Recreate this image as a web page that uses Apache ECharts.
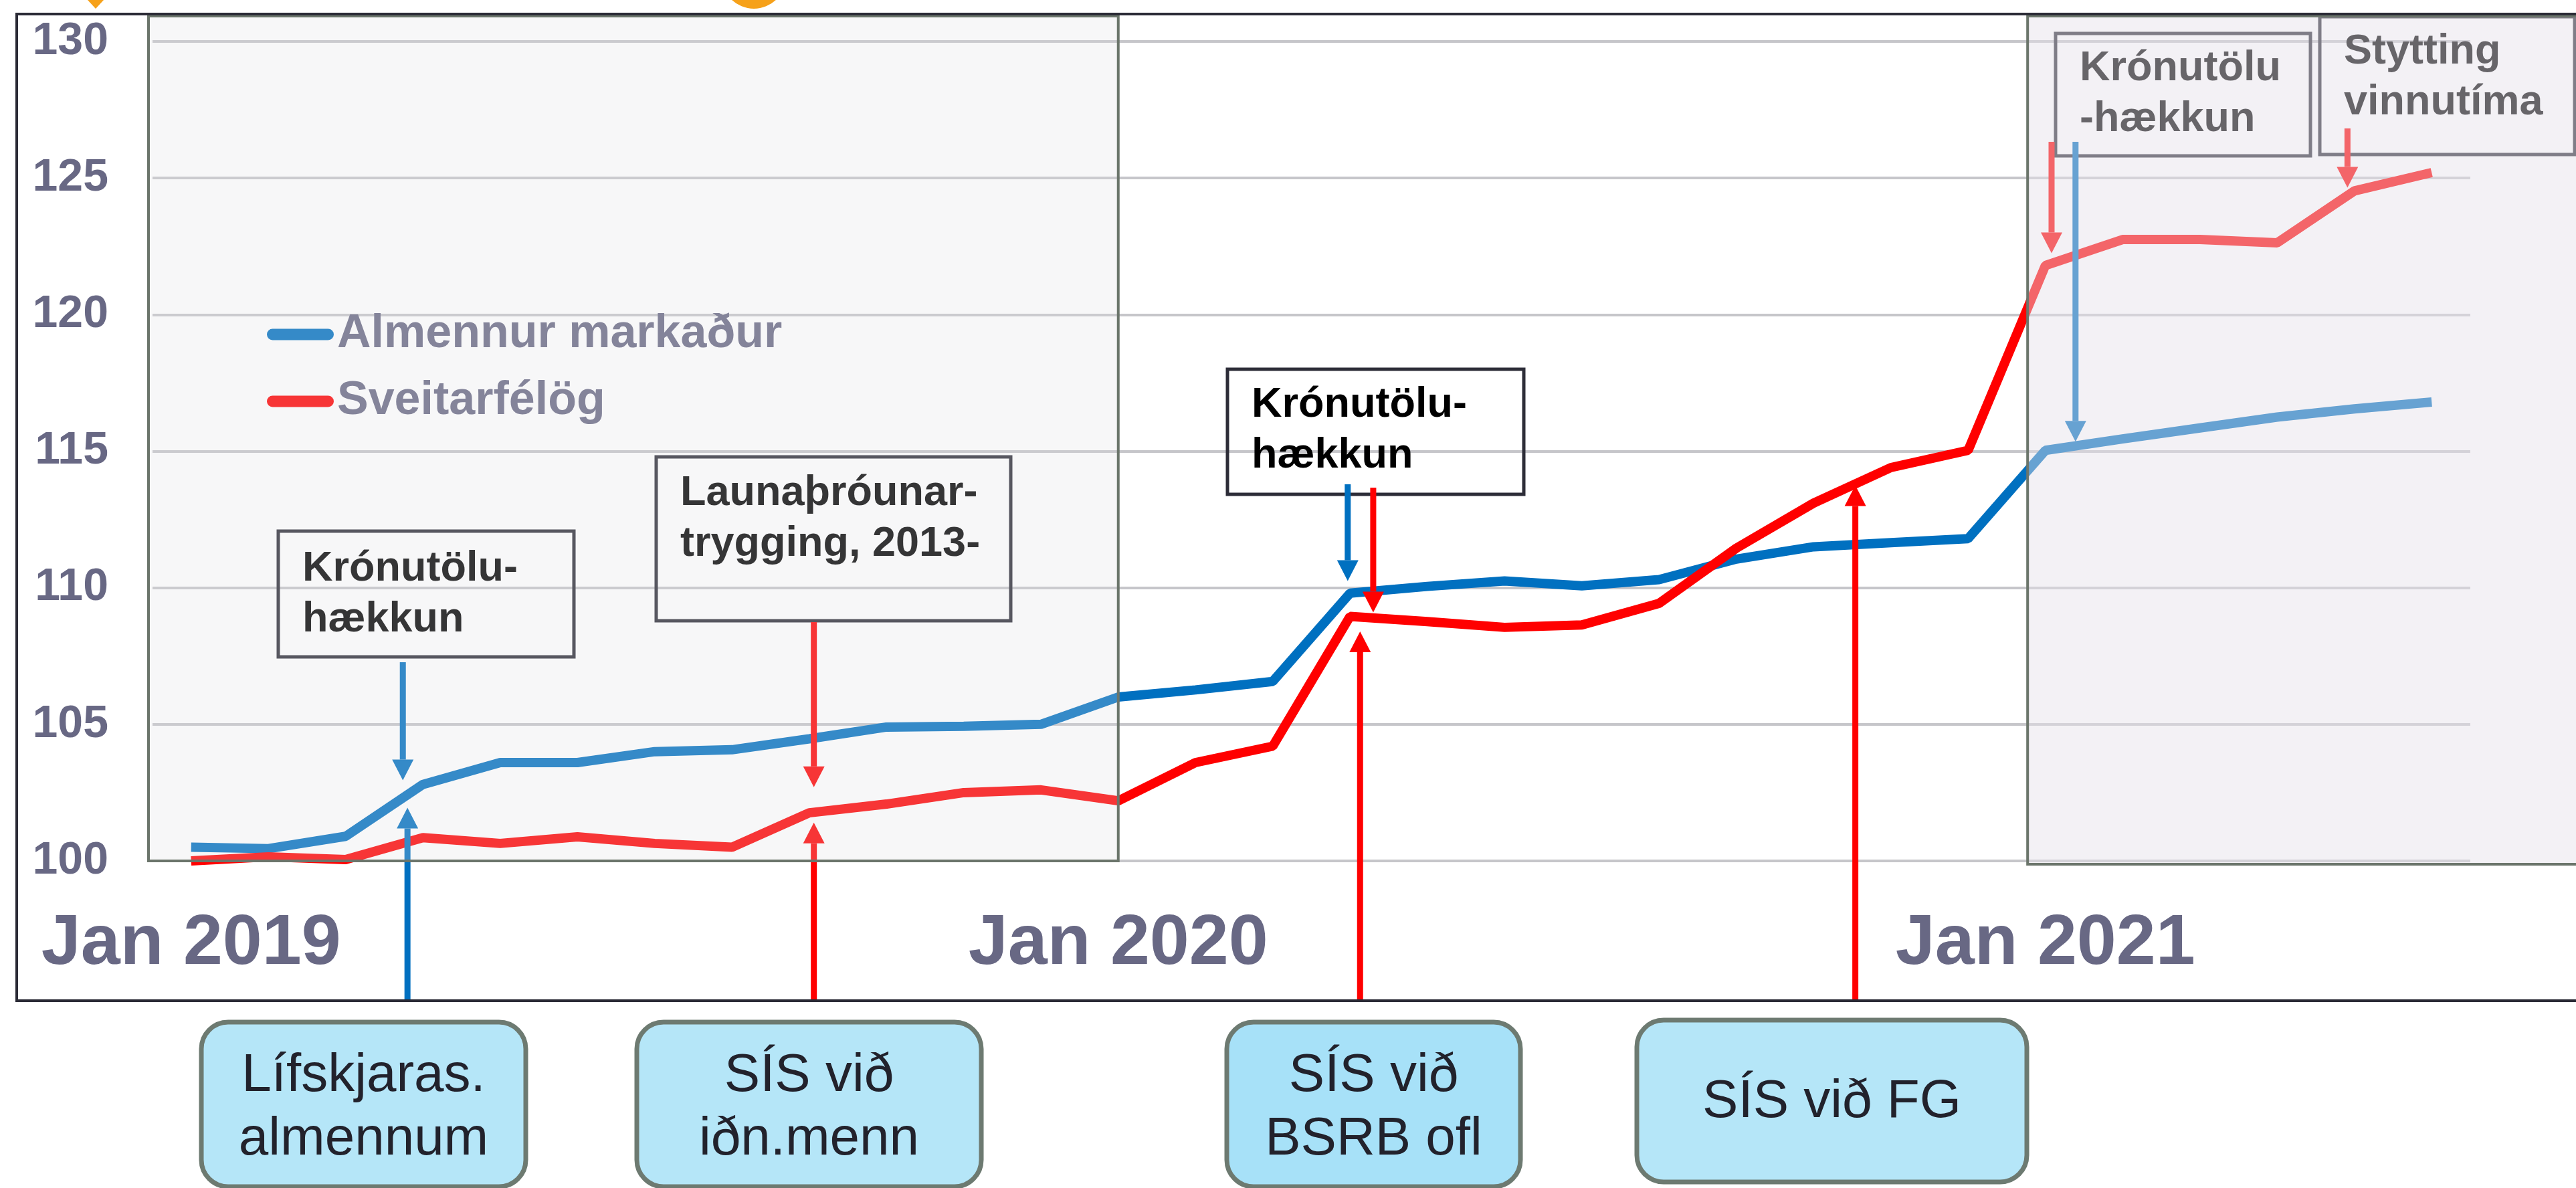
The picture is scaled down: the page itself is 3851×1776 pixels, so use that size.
<!DOCTYPE html>
<html>
<head>
<meta charset="utf-8">
<script src="https://cdn.jsdelivr.net/npm/echarts/dist/echarts.min.js"></script>
<style>
html,body{margin:0;padding:0;background:#ffffff;}
#c{width:3851px;height:1776px;}
</style>
</head>
<body>
<div id="c"></div>
<script>
// ---------- DATA ----------
const months = [
  'Jan 2019','Feb 2019','Mar 2019','Apr 2019','May 2019','Jun 2019','Jul 2019','Aug 2019','Sep 2019','Oct 2019','Nov 2019','Dec 2019',
  'Jan 2020','Feb 2020','Mar 2020','Apr 2020','May 2020','Jun 2020','Jul 2020','Aug 2020','Sep 2020','Oct 2020','Nov 2020','Dec 2020',
  'Jan 2021','Feb 2021','Mar 2021','Apr 2021','May 2021','Jun 2021'
];
const tickLabels = ['Jan 2019', 'Jan 2020', 'Jan 2021'];
const seriesNames = ['Almennur markaður', 'Sveitarfélög'];
const almennur = [100.5, 100.45, 100.9, 102.8, 103.6, 103.6, 104.0, 104.07, 104.47, 104.9, 104.93, 105.0,
  106.0, 106.26, 106.57, 109.8, 110.05, 110.25, 110.07, 110.3, 111.05, 111.5, 111.65, 111.8,
  115.03, 115.45, 115.85, 116.25, 116.55, 116.8];
const sveitarfelog = [100.0, 100.15, 100.05, 100.85, 100.64, 100.88, 100.64, 100.5, 101.76, 102.08, 102.5, 102.6,
  102.2, 103.6, 104.2, 108.95, 108.76, 108.55, 108.64, 109.43, 111.45, 113.1, 114.4, 115.03,
  121.8, 122.75, 122.75, 122.63, 124.53, 125.2];
const yTickValues = [100, 105, 110, 115, 120, 125, 130];

// annotation texts
const noteBoxes = [
  ['Krónutölu-', 'hækkun'],
  ['Launaþróunar-', 'trygging, 2013-'],
  ['Krónutölu-', 'hækkun'],
  ['Krónutölu', '-hækkun'],
  ['Stytting', 'vinnutíma']
];
const agreementBoxes = [
  ['Lífskjaras.', 'almennum'],
  ['SÍS við', 'iðn.menn'],
  ['SÍS við', 'BSRB ofl'],
  ['SÍS við FG']
];
// arrow anchors: category position (fractional index) and value at the tip
const arrowIndex = [2.74, 2.80, 8.06, 8.06, 14.97, 15.30, 15.13, 21.54, 24.08, 24.39, 27.91];
const arrowTipValue = [102.95, 101.95, 102.7, 101.4, 110.25, 109.1, 108.4, 113.75, 122.25, 115.35, 124.65];
const arrowSeries = [0, 0, 1, 1, 0, 1, 1, 1, 1, 0, 1];

// ---------- STYLE / LAYOUT ----------
const FONT = '"Liberation Sans", Arial, Helvetica, sans-serif';
const AXIS_COLOR = '#686884';
const BLUE = '#0070c0';
const RED = '#ff0000';
const colors = [BLUE, RED];

const chart = echarts.init(document.getElementById('c'), null, {renderer: 'canvas', width: 3851, height: 1776});

chart.setOption({
  animation: false,
  backgroundColor: '#ffffff',
  grid: {left: 228, right: 158, top: 62, bottom: 489, containLabel: false, outerBoundsMode: 'none'},
  xAxis: {
    type: 'category',
    data: months,
    boundaryGap: true,
    axisLine: {show: false},
    axisTick: {show: false},
    splitLine: {show: false},
    axisLabel: {
      interval: 11,
      margin: 72,
      fontSize: 106,
      fontWeight: 'bold',
      fontFamily: FONT,
      color: AXIS_COLOR,
      formatter: v => (tickLabels.indexOf(v) >= 0 ? v : '')
    }
  },
  yAxis: {
    type: 'value',
    min: yTickValues[0],
    max: yTickValues[yTickValues.length - 1],
    interval: 5,
    axisLine: {show: false},
    axisTick: {show: false},
    axisLabel: {margin: 66, fontSize: 68, fontWeight: 'bold', fontFamily: FONT, color: AXIS_COLOR},
    splitLine: {show: true, lineStyle: {color: '#c6c6ca', width: 4}}
  },
  legend: {
    orient: 'vertical',
    left: 394,
    top: 460,
    itemWidth: 100,
    itemHeight: 17,
    itemGap: 30,
    icon: 'path://M8.5 0H91.5A8.5 8.5 0 0 1 91.5 17H8.5A8.5 8.5 0 0 1 8.5 0Z',
    textStyle: {fontSize: 70, fontWeight: 'bold', fontFamily: FONT, color: AXIS_COLOR, lineHeight: 70},
    data: seriesNames
  },
  series: [
    {name: seriesNames[0], type: 'line', data: almennur, symbol: 'none', z: 2,
      lineStyle: {color: BLUE, width: 14}, itemStyle: {color: BLUE}},
    {name: seriesNames[1], type: 'line', data: sveitarfelog, symbol: 'none', z: 3,
      lineStyle: {color: RED, width: 14}, itemStyle: {color: RED}}
  ]
});

// ---------- ANNOTATIONS (positions from the chart's scales) ----------
const c0 = chart.convertToPixel({xAxisIndex: 0}, months[0]);
const c1 = chart.convertToPixel({xAxisIndex: 0}, months[1]);
const px = i => c0 + (c1 - c0) * i;
const py = v => chart.convertToPixel({yAxisIndex: 0}, v);

const els = [];
const Z_ANNOT = 10, Z_OVER = 20, Z_BORDER = 30, Z_FRAME = 40;

function txt(x, y, s, opt) {
  els.push({
    type: 'text', z: opt.z || Z_ANNOT, x: x, y: y,
    style: {
      text: s, font: opt.font, fill: opt.fill,
      align: opt.align || 'left', textAlign: opt.align || 'left',
      verticalAlign: 'middle', textVerticalAlign: 'middle'
    }
  });
}

// note boxes (pixel layout): x, y, w, h, first-line offset
const noteLayout = [
  [416, 794, 442, 188, 57],
  [981, 683, 530, 245, 55],
  [1835, 552, 443, 187, 54],
  [3073, 50, 381, 183, 53],
  [3468, 25, 381, 206, 53]
];
noteBoxes.forEach((lines, k) => {
  const [x, y, w, h, off] = noteLayout[k];
  els.push({type: 'rect', z: Z_ANNOT, shape: {x: x, y: y, width: w, height: h},
    style: {fill: 'none', stroke: '#2d2d38', lineWidth: 5}});
  lines.forEach((s, j) => txt(x + 36, y + off + j * 76, s, {font: 'bold 63px ' + FONT, fill: '#000000'}));
});

// arrows
const NOTE_BOTTOM = [990, 1496, 930, 1496, 724, 729, 1496, 1496, 212, 212, 192];
arrowIndex.forEach((ix, k) => {
  const x = px(ix);
  const y0 = NOTE_BOTTOM[k];
  const y1 = py(arrowTipValue[k]);
  const dir = y1 > y0 ? 1 : -1;
  const col = colors[arrowSeries[k]];
  const hl = 31, hw = 16;
  els.push({type: 'line', z: Z_ANNOT, shape: {x1: x, y1: y0, x2: x, y2: y1 - dir * hl},
    style: {stroke: col, lineWidth: 9}});
  els.push({type: 'polygon', z: Z_ANNOT, shape: {points: [[x - hw, y1 - dir * hl], [x + hw, y1 - dir * hl], [x, y1]]},
    style: {fill: col}});
});

// shaded overlays
const leftX0 = px(-0.5) - 6, leftX1 = px(12);
const rightX0 = px(23.77), rightX1 = 3862;
const topY = 24, baseY = py(100);
els.push({type: 'rect', z: Z_OVER, shape: {x: leftX0, y: topY, width: leftX1 - leftX0, height: baseY - topY},
  style: {fill: 'rgba(222,222,226,0.24)'}});
els.push({type: 'rect', z: Z_OVER, shape: {x: rightX0, y: topY, width: rightX1 - rightX0, height: baseY + 5 - topY},
  style: {fill: 'rgba(228,225,232,0.45)'}});
els.push({type: 'rect', z: Z_BORDER, shape: {x: leftX0, y: topY, width: leftX1 - leftX0, height: baseY - topY},
  style: {fill: 'none', stroke: '#6b756b', lineWidth: 4}});
els.push({type: 'rect', z: Z_BORDER, shape: {x: rightX0, y: topY, width: rightX1 - rightX0, height: baseY + 5 - topY},
  style: {fill: 'none', stroke: '#6b756b', lineWidth: 4}});

// outer frame
els.push({type: 'rect', z: Z_FRAME, shape: {x: 25, y: 21, width: 3851, height: 1475},
  style: {fill: 'none', stroke: '#2b2b36', lineWidth: 4}});

// agreement boxes below the chart
const agreeLayout = [
  [301, 1528, 485, 246, '#b5e6f8'],
  [952, 1528, 515, 246, '#b5e6f8'],
  [1834, 1528, 439, 246, '#a7e1f8'],
  [2447, 1525, 583, 242, '#b5e6f8']
];
agreementBoxes.forEach((lines, k) => {
  const [x, y, w, h, fill] = agreeLayout[k];
  els.push({type: 'rect', z: Z_ANNOT, shape: {x: x, y: y, width: w, height: h, r: 40},
    style: {fill: fill, stroke: '#6d7a71', lineWidth: 7}});
  const cx = x + w / 2;
  if (lines.length === 1) {
    txt(cx, y + 123, lines[0], {font: '80px ' + FONT, fill: '#22222c', align: 'center'});
  } else {
    lines.forEach((s, j) => txt(cx, y + 81 + j * 95, s, {font: '80px ' + FONT, fill: '#22222c', align: 'center'}));
  }
});

// cut-off orange shapes at the very top
els.push({type: 'polygon', z: Z_FRAME, shape: {points: [[131, 0], [155, 0], [143, 13]]}, style: {fill: '#f6a11a'}});
els.push({type: 'circle', z: Z_FRAME, shape: {cx: 1127, cy: -35, r: 48}, style: {fill: '#f6a11a'}});

chart.setOption({graphic: {elements: els}});
</script>
</body>
</html>
